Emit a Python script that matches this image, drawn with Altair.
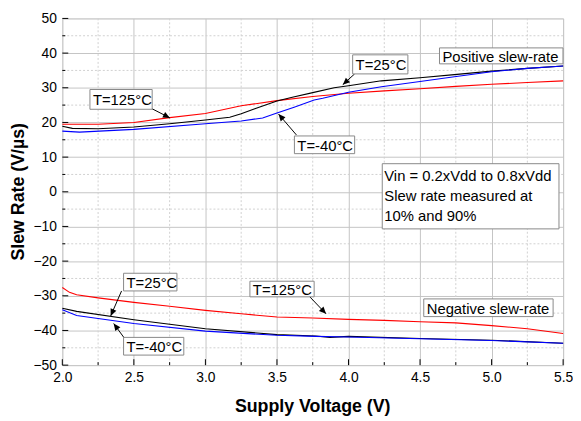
import math
import altair as alt
import pandas as pd

# ---------------- data ----------------
pos_125_x = [2.0, 2.25, 2.5, 2.75, 3.0, 3.25, 3.5, 3.75, 4.0, 4.25, 4.5, 4.75, 5.0, 5.25, 5.5]
pos_125_y = [19.5, 19.5, 20.0, 21.4, 22.6, 24.8, 26.3, 27.5, 28.4, 29.1, 29.7, 30.4, 31.0, 31.5, 32.0]

pos_25_x = [2.0, 2.07, 2.25, 2.5, 2.75, 3.0, 3.17, 3.25, 3.35, 3.5, 3.6, 3.75, 3.9, 4.0, 4.23, 4.5, 4.74, 5.0, 5.25, 5.5]
pos_25_y = [18.9, 18.3, 18.2, 18.7, 19.6, 20.7, 21.5, 22.5, 24.0, 26.2, 27.2, 28.6, 30.0, 30.6, 32.0, 32.9, 33.8, 34.8, 35.6, 36.3]

pos_m40_x = [2.0, 2.12, 2.5, 3.0, 3.25, 3.4, 3.5, 3.62, 3.76, 3.82, 4.0, 4.23, 4.5, 4.74, 5.0, 5.25, 5.5]
pos_m40_y = [17.5, 17.2, 18.0, 19.6, 20.4, 21.3, 22.7, 24.4, 26.5, 27.0, 28.7, 30.3, 31.8, 33.2, 34.6, 35.6, 36.3]

neg_125_x = [2.0, 2.05, 2.1, 2.25, 2.5, 2.75, 3.0, 3.25, 3.5, 3.75, 4.0, 4.25, 4.5, 4.75, 5.0, 5.25, 5.5]
neg_125_y = [-27.6, -29.0, -29.7, -30.6, -31.9, -33.0, -34.2, -35.2, -36.1, -36.4, -36.8, -37.1, -37.5, -37.8, -38.6, -39.5, -40.9]

neg_25_x = [2.0, 2.1, 2.5, 3.0, 3.5, 3.77, 3.87, 4.0, 4.5, 5.0, 5.5]
neg_25_y = [-33.6, -34.5, -36.9, -39.5, -41.2, -41.6, -42.0, -41.7, -42.3, -42.8, -43.7]

neg_m40_x = [2.0, 2.1, 2.5, 3.0, 3.5, 3.77, 4.0, 4.5, 5.0, 5.5]
neg_m40_y = [-34.0, -35.7, -38.0, -40.2, -41.4, -41.7, -41.9, -42.4, -42.9, -43.7]

x_major = [2.0, 2.5, 3.0, 3.5, 4.0, 4.5, 5.0, 5.5]
x_minor = [2.25, 2.75, 3.25, 3.75, 4.25, 4.75, 5.25]
y_major = [-50, -40, -30, -20, -10, 0, 10, 20, 30, 40, 50]
y_minor = [-45, -35, -25, -15, -5, 5, 15, 25, 35, 45]

# annotation boxes: label, x0, x1, y0, y1
box_labels = ["T=125°C", "T=-40°C", "T=25°C", "Positive slew-rate",
              "T=25°C", "T=-40°C", "T=125°C", "Negative slew-rate", ""]
box_x0 = [2.193, 3.622, 4.029, 4.636, 2.428, 2.428, 3.311, 4.526, 4.236]
box_x1 = [2.628, 4.043, 4.415, 5.499, 2.801, 2.849, 3.760, 5.430, 5.471]
box_y0 = [23.8, 11.0, 34.0, 36.9, -28.6, -47.1, -30.3, -36.0, -10.7]
box_y1 = [29.5, 16.1, 39.5, 41.5, -23.5, -42.0, -25.8, -30.9, 8.1]

info_lines = ["Vin = 0.2xVdd to 0.8xVdd", "Slew rate measured at", "10% and 90%"]
info_x = 4.25
info_y = [4.4, -1.3, -7.0]

# arrows: tail -> head
arr_tx = [2.62, 3.636, 4.043, 2.414, 2.435, 3.725]
arr_ty = [24.1, 16.4, 34.0, -28.6, -42.3, -30.1]
arr_hx = [2.752, 3.511, 3.96, 2.338, 2.359, 3.843]
arr_hy = [21.3, 22.4, 30.9, -35.8, -38.0, -35.2]

# ---------------- build ----------------
W, H = 507, 351
SX = W / 3.5
SY = H / 100.0
FONT = "Liberation Sans"

rows = []
for name, xs_, ys_ in [("p125", pos_125_x, pos_125_y), ("p25", pos_25_x, pos_25_y),
                       ("pm40", pos_m40_x, pos_m40_y), ("n125", neg_125_x, neg_125_y),
                       ("n25", neg_25_x, neg_25_y), ("nm40", neg_m40_x, neg_m40_y)]:
    for i, (a, b) in enumerate(zip(xs_, ys_)):
        rows.append({"s": name, "x": a, "y": b, "o": i})
lines_df = pd.DataFrame(rows)

xs = alt.Scale(domain=[2.0, 5.5], nice=False, zero=False)
ys = alt.Scale(domain=[-50, 50], nice=False, zero=False)

x_axis = alt.Axis(
    values=x_major, format=".1f", title="Supply Voltage (V)", grid=True,
    gridColor="#c4c4c4", gridWidth=1, ticks=False, labelPadding=6,
    labelFlush=False, labelOverlap=False,
    labelFontSize=14, labelFont=FONT, labelColor="#000",
    titleFontSize=18, titleFont=FONT, titleFontWeight="bold", titleColor="#000",
    titleX=253, titleY=42, titleBaseline="middle", domain=False)
y_axis = alt.Axis(
    values=y_major, format="d", title="Slew Rate (V/µs)", grid=True,
    gridColor="#c4c4c4", gridWidth=1, ticks=False, labelPadding=6,
    labelFlush=False, labelOverlap=False,
    labelFontSize=14, labelFont=FONT, labelColor="#000",
    titleFontSize=18, titleFont=FONT, titleFontWeight="bold", titleColor="#000",
    titleX=-44, titleY=175, titleBaseline="middle", domain=False)


def X(f):
    return alt.X(f, scale=xs, axis=x_axis)


def Y(f):
    return alt.Y(f, scale=ys, axis=y_axis)


color = alt.Color("s:N", scale=alt.Scale(
    domain=["p125", "p25", "pm40", "n125", "n25", "nm40"],
    range=["#ff0000", "#000000", "#0000ff", "#ff0000", "#000000", "#0000ff"]), legend=None)

minor_x = alt.Chart(pd.DataFrame({"x": x_minor})).mark_rule(
    color="#d0d0d0", strokeDash=[2, 2], strokeWidth=1).encode(x=X("x:Q"))
minor_y = alt.Chart(pd.DataFrame({"y": y_minor})).mark_rule(
    color="#d0d0d0", strokeDash=[2, 2], strokeWidth=1).encode(y=Y("y:Q"))

curves = alt.Chart(lines_df).mark_line(strokeWidth=1.1).encode(
    x=X("x:Q"), y=Y("y:Q"), color=color, detail="s:N", order="o:Q")

tick_xM = alt.Chart(pd.DataFrame({"x": x_major})).mark_rule(color="#000", strokeWidth=1).encode(
    x=X("x:Q"), y=alt.value(H), y2=alt.value(H - 6))
tick_xm = alt.Chart(pd.DataFrame({"x": x_minor})).mark_rule(color="#000", strokeWidth=1).encode(
    x=X("x:Q"), y=alt.value(H), y2=alt.value(H - 3))
tick_yM = alt.Chart(pd.DataFrame({"y": y_major})).mark_rule(color="#000", strokeWidth=1).encode(
    y=Y("y:Q"), x=alt.value(0), x2=alt.value(6))
tick_ym = alt.Chart(pd.DataFrame({"y": y_minor})).mark_rule(color="#000", strokeWidth=1).encode(
    y=Y("y:Q"), x=alt.value(0), x2=alt.value(3))

box_df = pd.DataFrame({"label": box_labels, "x0": box_x0, "x1": box_x1,
                       "y0": box_y0, "y1": box_y1})
box_df["yc"] = (box_df["y0"] + box_df["y1"]) / 2
boxes = alt.Chart(box_df).mark_rect(fill="white", stroke="#888888", strokeWidth=1).encode(
    x=X("x0:Q"), x2="x1:Q", y=Y("y0:Q"), y2="y1:Q")
box_text = alt.Chart(box_df[box_df["label"] != ""]).mark_text(
    align="left", baseline="middle", dx=3, dy=1, fontSize=15, font=FONT, color="#000").encode(
    x=X("x0:Q"), y=Y("yc:Q"), text="label:N")

info_df = pd.DataFrame({"t": info_lines, "x": [info_x] * 3, "y": info_y})
info_text = alt.Chart(info_df).mark_text(
    align="left", baseline="middle", fontSize=15, font=FONT, color="#000").encode(
    x=X("x:Q"), y=Y("y:Q"), text="t:N")

arr_df = pd.DataFrame({"tx": arr_tx, "ty": arr_ty, "hx": arr_hx, "hy": arr_hy})
arr_df["ang"] = [
    (math.degrees(math.atan2((hx - tx) * SX, (hy - ty) * SY)) + 360) % 360
    for tx, ty, hx, hy in zip(arr_tx, arr_ty, arr_hx, arr_hy)]
arr_lines = alt.Chart(arr_df).mark_rule(color="#000", strokeWidth=1).encode(
    x=X("tx:Q"), y=Y("ty:Q"), x2="hx:Q", y2="hy:Q")
arr_heads = alt.Chart(arr_df).mark_point(
    shape="M0,0L-0.45,1L0.45,1Z", filled=True, color="#000", size=200, opacity=1).encode(
    x=X("hx:Q"), y=Y("hy:Q"), angle=alt.Angle("ang:Q", scale=None))

chart = alt.layer(
    minor_x, minor_y, curves, tick_xM, tick_xm, tick_yM, tick_ym,
    arr_lines, arr_heads, boxes, box_text, info_text
).properties(
    width=W, height=H,
    autosize=alt.AutoSizeParams(type="none"),
    padding={"left": 55, "top": 8, "right": 10, "bottom": 54},
).configure_view(stroke="#000", strokeWidth=1.5).configure(background="white")

chart.save("out.html", embed_options={"renderer": "svg", "actions": False})
